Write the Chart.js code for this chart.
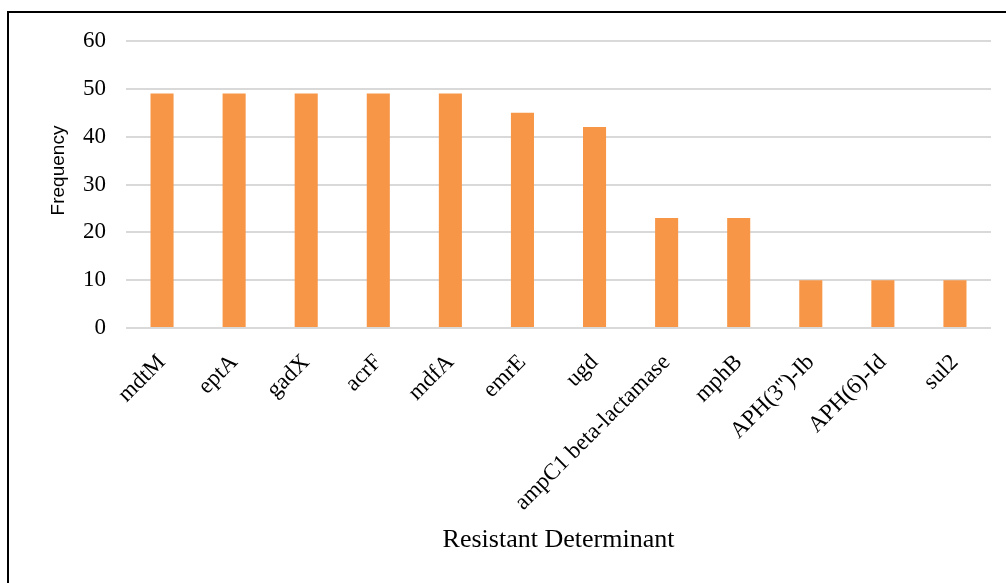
<!DOCTYPE html>
<html>
<head>
<meta charset="utf-8">
<script src="https://cdn.jsdelivr.net/npm/chart.js@4/dist/chart.umd.min.js"></script>
<style>
  html, body { margin: 0; padding: 0; background: #ffffff; }
  #wrap { position: relative; width: 1006px; height: 583px; overflow: hidden; }
  #frame {
    position: absolute; left: 7px; top: 11px; width: 1200px; height: 800px;
    border-left: 2px solid #000; border-top: 2px solid #000;
    pointer-events: none;
  }
  canvas { position: absolute; left: 0; top: 0; }
</style>
</head>
<body>
<div id="wrap">
  <canvas id="chart" width="1006" height="583"></canvas>
  <div id="frame"></div>
</div>
<script>
// Resistance determinants and how often each was found
const determinants = [
  'mdtM', 'eptA', 'gadX', 'acrF', 'mdfA', 'emrE', 'ugd',
  'ampC1 beta-lactamase', 'mphB', 'APH(3\'\')-Ib', 'APH(6)-Id', 'sul2'
];
const frequency = [49, 49, 49, 49, 49, 45, 42, 23, 23, 10, 10, 10];
const yTicks = [0, 10, 20, 30, 40, 50, 60];
const yTitle = 'Frequency';
const xTitle = 'Resistant Determinant';

const serif = '"Liberation Serif", "Times New Roman", serif';
const sans = '"Liberation Sans", Arial, sans-serif';

// Vertical axis title, drawn beside the value axis and lifted a little
// above the middle of the plot area.
const sideTitle = {
  id: 'sideTitle',
  afterDraw(chart, args, opts) {
    const { ctx, chartArea } = chart;
    ctx.save();
    ctx.translate(opts.x, (chartArea.top + chartArea.bottom) / 2 + opts.shift);
    ctx.rotate(-Math.PI / 2);
    ctx.font = opts.font;
    ctx.fillStyle = opts.color;
    ctx.textAlign = 'center';
    ctx.textBaseline = 'middle';
    ctx.fillText(opts.text, 0, 0);
    ctx.restore();
  }
};

new Chart(document.getElementById('chart'), {
  type: 'bar',
  data: {
    labels: determinants,
    datasets: [{
      label: yTitle,
      data: frequency,
      backgroundColor: '#F79646',
      borderWidth: 0,
      barPercentage: 0.64,
      categoryPercentage: 0.5
    }]
  },
  plugins: [sideTitle],
  options: {
    responsive: false,
    animation: false,
    devicePixelRatio: 1,
    layout: { padding: { left: 30, right: 15, top: 41, bottom: 0 } },
    plugins: {
      legend: { display: false },
      tooltip: { enabled: false },
      sideTitle: {
        text: yTitle,
        x: 59,
        shift: -14,
        color: '#000',
        font: '19px ' + sans
      }
    },
    scales: {
      x: {
        grid: { display: false },
        border: { display: false },
        ticks: {
          color: '#000',
          font: { family: serif, size: 23 },
          minRotation: 45,
          maxRotation: 45,
          autoSkip: false,
          padding: 13
        },
        title: {
          display: true,
          text: xTitle,
          color: '#000',
          font: { family: serif, size: 26 },
          padding: { top: 0, bottom: 27 }
        },
        afterFit(scale) { scale.height = 255; }
      },
      y: {
        min: 0,
        max: 60,
        afterBuildTicks(scale) { scale.ticks = yTicks.map(v => ({ value: v })); },
        grid: { color: '#d9d9d9', lineWidth: 2, drawTicks: false },
        border: { display: false },
        ticks: {
          color: '#000',
          font: { family: serif, size: 23 },
          padding: 20
        },
        title: { display: false },
        afterFit(scale) { scale.width = 96; }
      }
    }
  }
});
</script>
</body>
</html>
